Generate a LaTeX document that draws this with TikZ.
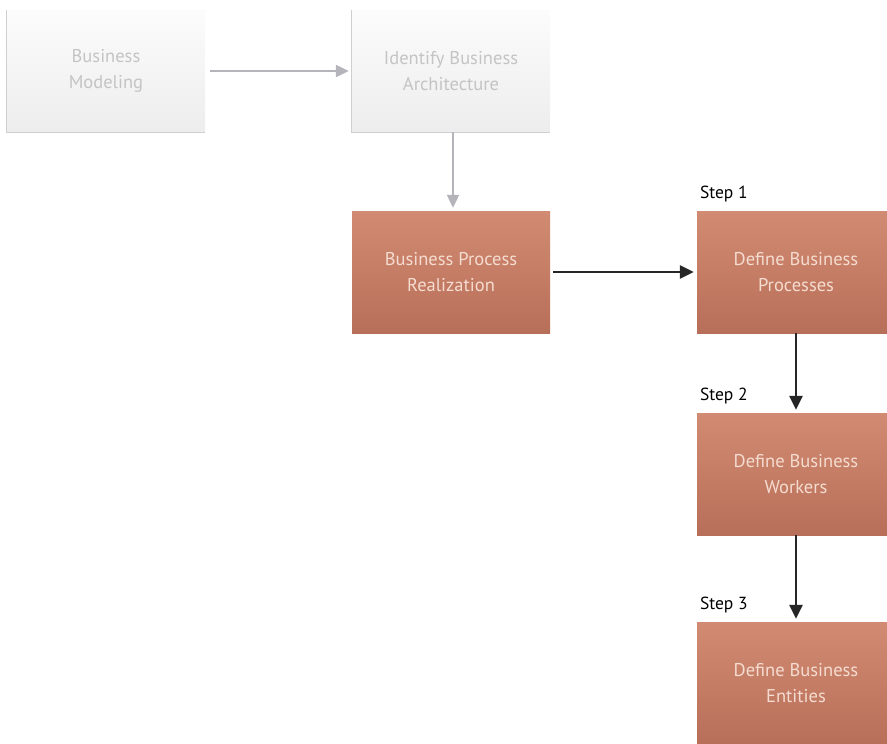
\documentclass[tikz,border=0pt]{standalone}
\usepackage{fontspec}
\setmainfont{PT Sans}
\usetikzlibrary{arrows.meta}
\definecolor{rustTop}{HTML}{D28B73}
\definecolor{rustBot}{HTML}{B86F59}
\definecolor{rustText}{HTML}{F5DCD0}
\definecolor{paleTop}{HTML}{FCFCFC}
\definecolor{paleBot}{HTML}{EDEDED}
\definecolor{paleEdge}{HTML}{CFCFCF}
\definecolor{paleText}{HTML}{C4C4C4}
\definecolor{paleArrow}{HTML}{B4B4BA}
\tikzset{
  procbox/.style={rectangle, minimum width=198pt, minimum height=122pt,
    top color=rustTop, bottom color=rustBot, text=rustText,
    align=center, font=\fontsize{18.5}{26}\selectfont, inner sep=0pt},
  palebox/.style={rectangle, minimum width=198pt, minimum height=122pt,
    top color=paleTop, bottom color=paleBot, text=paleText,
    align=center, font=\fontsize{18.5}{26}\selectfont, inner sep=0pt},
  palelink/.style={draw=paleArrow, line width=2.2pt, -{Triangle[length=13pt,width=12pt]}},
  darklink/.style={draw=black!85, line width=2.8pt, -{Triangle[length=14pt,width=13pt]}},
  steplabel/.style={anchor=base west, font=\fontsize{17.5}{20}\selectfont, text=black, inner sep=0pt}
}
\begin{document}
\begin{tikzpicture}[x=1pt,y=-1pt]
\useasboundingbox (0,0) rectangle (887,744);
% faint upper row
\node[palebox] (bm)  at (106,71) {Business\\Modeling};
\node[palebox] (iba) at (451,71) {Identify Business\\Architecture};
\foreach \n in {bm,iba}{
  \draw[paleEdge, line width=1.2pt] (\n.north west) -- (\n.south west) -- (\n.south east);
}
% process boxes
\node[procbox] (bpr) at (451,272) {Business Process\\Realization};
\node[procbox] (dbp) at (796,272) {Define Business\\Processes};
\node[procbox] (dbw) at (796,474) {Define Business\\Workers};
\node[procbox] (dbe) at (796,683) {Define Business\\Entities};
% step captions, baseline a little above each box
\node[steplabel] (s1) at ([xshift=3pt,yshift=12pt]dbp.north west) {Step 1};
\node[steplabel] (s2) at ([xshift=3pt,yshift=12pt]dbw.north west) {Step 2};
\node[steplabel] (s3) at ([xshift=3pt,yshift=12pt]dbe.north west) {Step 3};
% connectors
\draw[palelink] ([xshift=5pt]bm.east) -- ([xshift=-3pt]iba.west);
\draw[palelink] ([xshift=2pt]iba.south) -- ([xshift=2pt,yshift=3pt]bpr.north);
\draw[darklink] ([xshift=3pt]bpr.east) -- ([xshift=-3pt]dbp.west);
\draw[darklink] (dbp.south) -- ([yshift=3pt]dbw.north);
\draw[darklink] (dbw.south) -- ([yshift=3pt]dbe.north);
\end{tikzpicture}
\end{document}
